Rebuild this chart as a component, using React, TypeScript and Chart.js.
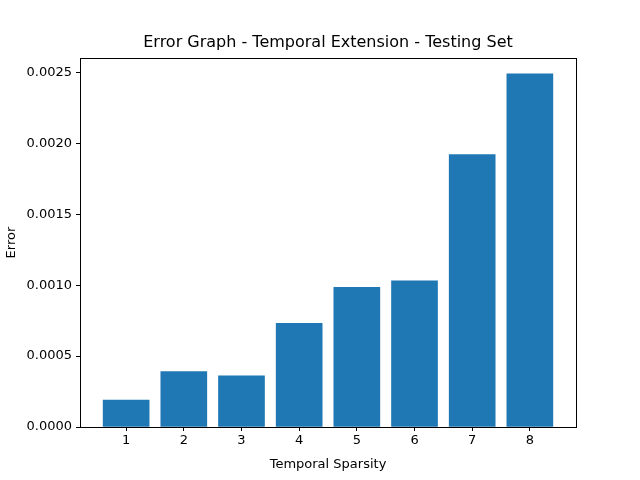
import { useRef, useEffect } from 'react';
import { Chart, registerables } from 'chart.js';

Chart.register(...registerables);

const sparsity = [1, 2, 3, 4, 5, 6, 7, 8];
const errors = [0.00019, 0.00039, 0.00036, 0.00073, 0.000985, 0.00103, 0.00192, 0.00249];
const yTicks = [0, 0.0005, 0.001, 0.0015, 0.002, 0.0025];

const FONT = 'DejaVu Sans, sans-serif';

// draws the full box round the plot, as matplotlib does
const frame = {
  id: 'frame',
  afterDraw(chart: Chart) {
    const { ctx, chartArea: a } = chart;
    ctx.save();
    ctx.strokeStyle = '#000';
    ctx.lineWidth = 1;
    ctx.strokeRect(Math.round(a.left) + 0.5, Math.round(a.top) + 0.5, Math.round(a.right - a.left), Math.round(a.bottom - a.top));
    ctx.restore();
  },
};

export default function App() {
  const canvasRef = useRef<HTMLCanvasElement>(null);

  useEffect(() => {
    document.body.style.margin = '0';
    if (!canvasRef.current) return;
    const chart = new Chart(canvasRef.current, {
      type: 'bar',
      data: {
        datasets: [
          {
            data: sparsity.map((s, i) => ({ x: s, y: errors[i] })),
            backgroundColor: '#1f77b4',
            borderWidth: 0,
            barThickness: 46,
          },
        ],
      },
      plugins: [frame],
      options: {
        animation: false,
        responsive: false,
        layout: { padding: { left: 0, right: 64, top: 0, bottom: 0 } },
        plugins: {
          legend: { display: false },
          tooltip: { enabled: false },
          title: {
            display: true,
            fullSize: false,
            text: 'Error Graph - Temporal Extension - Testing Set',
            color: '#000',
            font: { family: FONT, size: 16, weight: 'normal' },
            padding: { top: 33, bottom: 6 },
          },
        },
        scales: {
          x: {
            type: 'linear',
            offset: false,
            min: 0.2,
            max: 8.8,
            afterFit: (s: any) => { s.height = 53; },
            afterBuildTicks: (s: any) => { s.ticks = sparsity.map(v => ({ value: v })); },
            ticks: { color: '#000', font: { family: FONT, size: 13 }, padding: 2 },
            grid: { drawOnChartArea: false, offset: false, tickLength: 4, color: '#000' },
            border: { color: '#000' },
            title: { display: true, text: 'Temporal Sparsity', color: '#000', font: { family: FONT, size: 13 }, padding: { top: 0, bottom: 8 } },
          },
          y: {
            min: 0,
            max: 0.0026,
            afterFit: (s: any) => { s.width = 80; },
            afterBuildTicks: (s: any) => { s.ticks = yTicks.map(v => ({ value: v })); },
            ticks: { color: '#000', font: { family: FONT, size: 13 }, padding: 4, callback: (v: any) => Number(v).toFixed(4) },
            grid: { drawOnChartArea: false, tickLength: 4, color: '#000' },
            border: { color: '#000' },
            title: { display: true, text: 'Error', color: '#000', font: { family: FONT, size: 13 }, padding: { bottom: 2 } },
          },
        },
      },
    });
    return () => chart.destroy();
  }, []);

  return <canvas ref={canvasRef} width={640} height={480} />;
}
